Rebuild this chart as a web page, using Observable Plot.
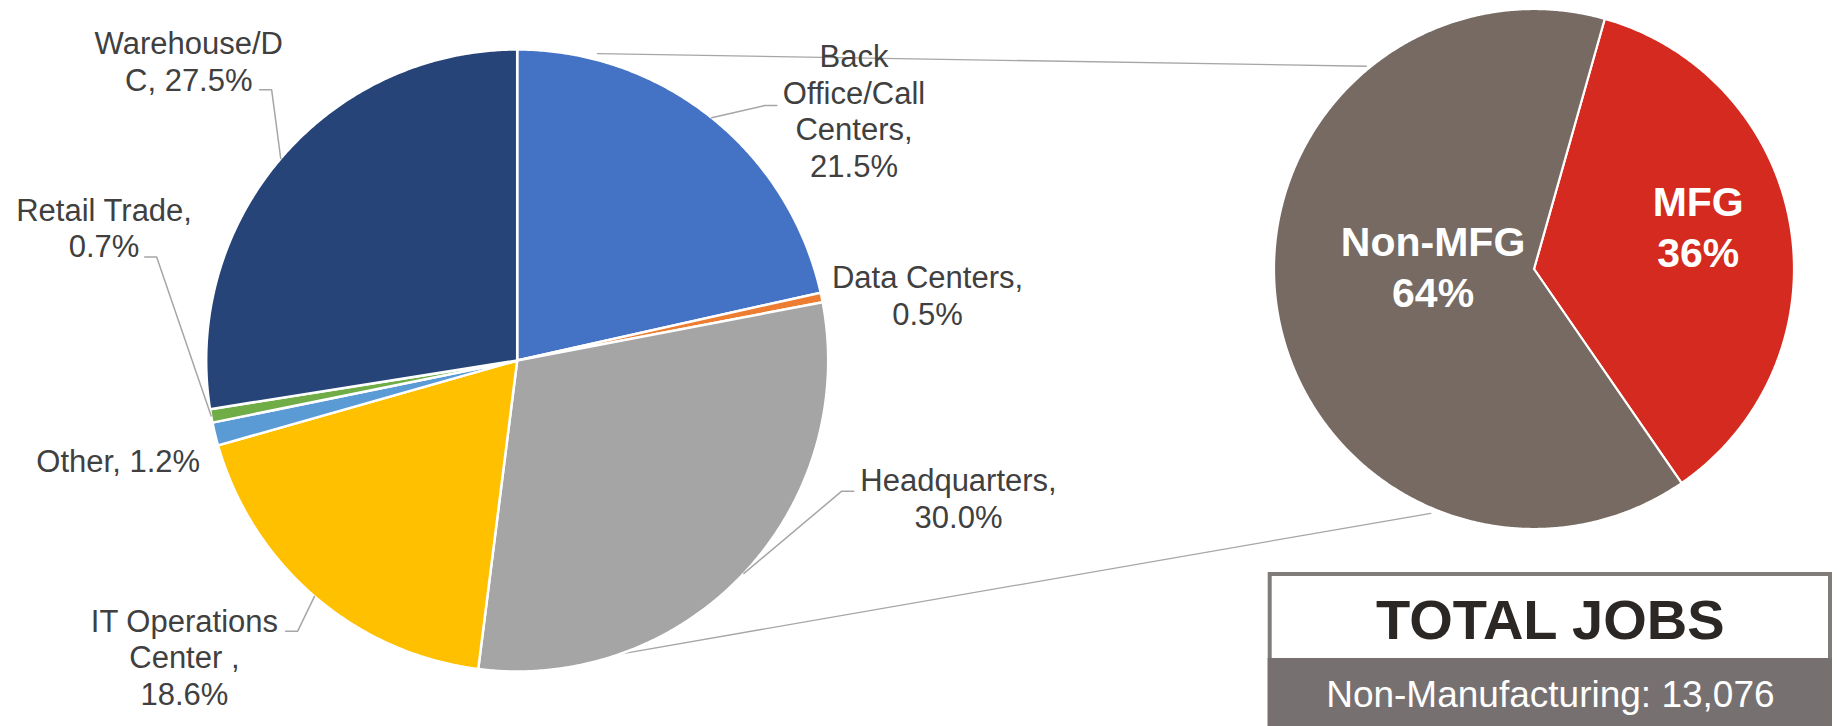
<!DOCTYPE html>
<html><head><meta charset="utf-8">
<script src="https://cdn.jsdelivr.net/npm/d3@7"></script>
<script src="https://cdn.jsdelivr.net/npm/@observablehq/plot@0.6"></script>
<style>html,body{margin:0;padding:0;background:#fff;overflow:hidden}</style>
</head><body><div id="chart"></div>
<script>
// ---------- data ----------
const sectors = ["Back Office/Call Centers", "Data Centers", "Headquarters", "IT Operations Center", "Other", "Retail Trade", "Warehouse/DC"];
const sectorShares = [21.5, 0.5, 30.0, 18.6, 1.2, 0.7, 27.5];
const sectorLabelStems = ["Back\nOffice/Call\nCenters,\n", "Data Centers,\n", "Headquarters,\n", "IT Operations\nCenter ,\n", "Other, ", "Retail Trade,\n", "Warehouse/D\nC, "];
const sectorColors = ["#4472C4", "#ED7D31", "#A5A5A5", "#FFC000", "#5B9BD5", "#70AD47", "#264478"];

const jobTypes = ["MFG", "Non-MFG"];
const jobShares = [36, 64];
const jobColors = ["#D42A1F", "#766A62"];

const totalTitle = "TOTAL JOBS";
const totalLabel = "Non-Manufacturing";
const totalValue = 13076;

// ---------- layout ----------
const W = 1837, H = 726;
const leftPie = {cx: 516.7, cy: 360, r: 311, start: 0};
const rightPie = {cx: 1533.5, cy: 268.5, r: 260, start: 15.8};
// label placement, polar relative to the pie (angle in degrees clockwise from 12 o'clock, distance in radii)
const sectorLabelPlace = [
  {angle: 61.44, k: 1.233, elbow: [44.16, 1.143], stub: 12},
  {angle: 84.99, k: 1.3244},
  {angle: 110.76, k: 1.5175, elbow: [111.93, 1.125], stub: 12},
  {angle: 224.0, k: 1.5405, elbow: [219.04, 1.1206], stub: -12},
  {angle: 254.4, k: 1.332},
  {angle: 284.0, k: 1.369, elbow: [286.0, 1.206], stub: -12},
  {angle: 309.4, k: 1.3666, elbow: [317.8, 1.1755], stub: -12}
];
const jobLabelPlace = [{angle: 89.37, k: 0.6315}, {angle: 249.3, k: 0.415}];
const connectors = [
  {from: [14.66, 1.02], to: [320.4, 1.012]},
  {from: [160.7, 1.0], to: [202.9, 1.02]}
];
const box = {x1: 1267.7, x2: 1832, y1: 572, yBand: 658, y2: 728, border: 4};

// ---------- geometry helpers ----------
function polar(p, deg, k) {
  const a = deg * Math.PI / 180;
  return [p.cx + k * p.r * Math.sin(a), p.cy - k * p.r * Math.cos(a)];
}
function pieSectors(names, shares, pie) {
  const total = d3.sum(shares);
  let acc = 0;
  const pts = [], mids = [];
  names.forEach((name, i) => {
    const a0 = pie.start + acc / total * 360;
    acc += shares[i];
    const a1 = pie.start + acc / total * 360;
    mids.push((a0 + a1) / 2);
    const n = Math.max(2, Math.ceil((a1 - a0) / 0.4));
    pts.push({name, x: pie.cx, y: pie.cy});
    for (let j = 0; j <= n; j++) {
      const [x, y] = polar(pie, a0 + (a1 - a0) * j / n, 1);
      pts.push({name, x, y});
    }
    pts.push({name, x: pie.cx, y: pie.cy});
  });
  return {pts, mids};
}

const L = pieSectors(sectors, sectorShares, leftPie);
const R = pieSectors(jobTypes, jobShares, rightPie);

const leaders = [];
sectors.forEach((name, i) => {
  const p = sectorLabelPlace[i];
  if (!p.elbow) return;
  const a = polar(leftPie, L.mids[i], 1);
  const b = polar(leftPie, p.elbow[0], p.elbow[1]);
  leaders.push({name, x: a[0], y: a[1]}, {name, x: b[0], y: b[1]}, {name, x: b[0] + p.stub, y: b[1]});
});

const connectorPts = [];
connectors.forEach((c, i) => {
  const a = polar(leftPie, c.from[0], c.from[1]);
  const b = polar(rightPie, c.to[0], c.to[1]);
  connectorPts.push({id: i, x: a[0], y: a[1]}, {id: i, x: b[0], y: b[1]});
});

const sectorLabels = sectors.map((name, i) => {
  const [x, y] = polar(leftPie, sectorLabelPlace[i].angle, sectorLabelPlace[i].k);
  return {x, y, text: sectorLabelStems[i] + sectorShares[i].toFixed(1) + "%"};
});
const jobLabels = jobTypes.map((name, i) => {
  const [x, y] = polar(rightPie, jobLabelPlace[i].angle, jobLabelPlace[i].k);
  return {x, y, text: name + "\n" + jobShares[i] + "%"};
});

const boxCx = (box.x1 + box.x2) / 2;
const boxTexts = [{x: boxCx, y: box.y1 + 66, text: totalTitle}];
const bandTexts = [{x: boxCx, y: box.y1 + 134.3, text: totalLabel + ": " + d3.format(",")(totalValue)}];
const hb = box.border / 2;

const chart = Plot.plot({
  width: W, height: H,
  margin: 0,
  x: {domain: [0, W], range: [0, W], axis: null},
  y: {domain: [0, H], range: [0, H], axis: null},
  color: {domain: [...sectors, ...jobTypes], range: [...sectorColors, ...jobColors]},
  style: {fontFamily: "'Liberation Sans', Arial, sans-serif", background: "#fff", overflow: "visible"},
  marks: [
    Plot.line(connectorPts, {x: "x", y: "y", z: "id", stroke: "#A6A6A6", strokeWidth: 1.3}),
    Plot.line(L.pts, {x: "x", y: "y", z: "name", fill: "name", stroke: "white", strokeWidth: 2.5, strokeLinejoin: "round"}),
    Plot.line(R.pts, {x: "x", y: "y", z: "name", fill: "name", stroke: "white", strokeWidth: 2.2, strokeLinejoin: "round"}),
    Plot.line(leaders, {x: "x", y: "y", z: "name", stroke: "#A6A6A6", strokeWidth: 1.5, strokeLinejoin: "miter"}),
    Plot.text(sectorLabels, {x: "x", y: "y", text: "text", fontSize: 31, lineHeight: 1.184, lineAnchor: "bottom", fill: "#404040"}),
    Plot.text(jobLabels, {x: "x", y: "y", text: "text", fontSize: 41, fontWeight: "bold", lineHeight: 1.25, lineAnchor: "bottom", fill: "white"}),
    Plot.rect([box], {x1: d => d.x1 + hb, x2: d => d.x2 - hb, y1: d => d.y1 + hb, y2: "y2", fill: "white", stroke: "#807C7A", strokeWidth: box.border}),
    Plot.rect([box], {x1: "x1", x2: "x2", y1: "yBand", y2: "y2", fill: "#767170"}),
    Plot.text(boxTexts, {x: "x", y: "y", text: "text", fontSize: 56, fontWeight: "bold", lineAnchor: "bottom", fill: "#2B2724"}),
    Plot.text(bandTexts, {x: "x", y: "y", text: "text", fontSize: 37, lineAnchor: "bottom", fill: "white"})
  ]
});
document.getElementById("chart").appendChild(chart);
</script>
</body></html>
